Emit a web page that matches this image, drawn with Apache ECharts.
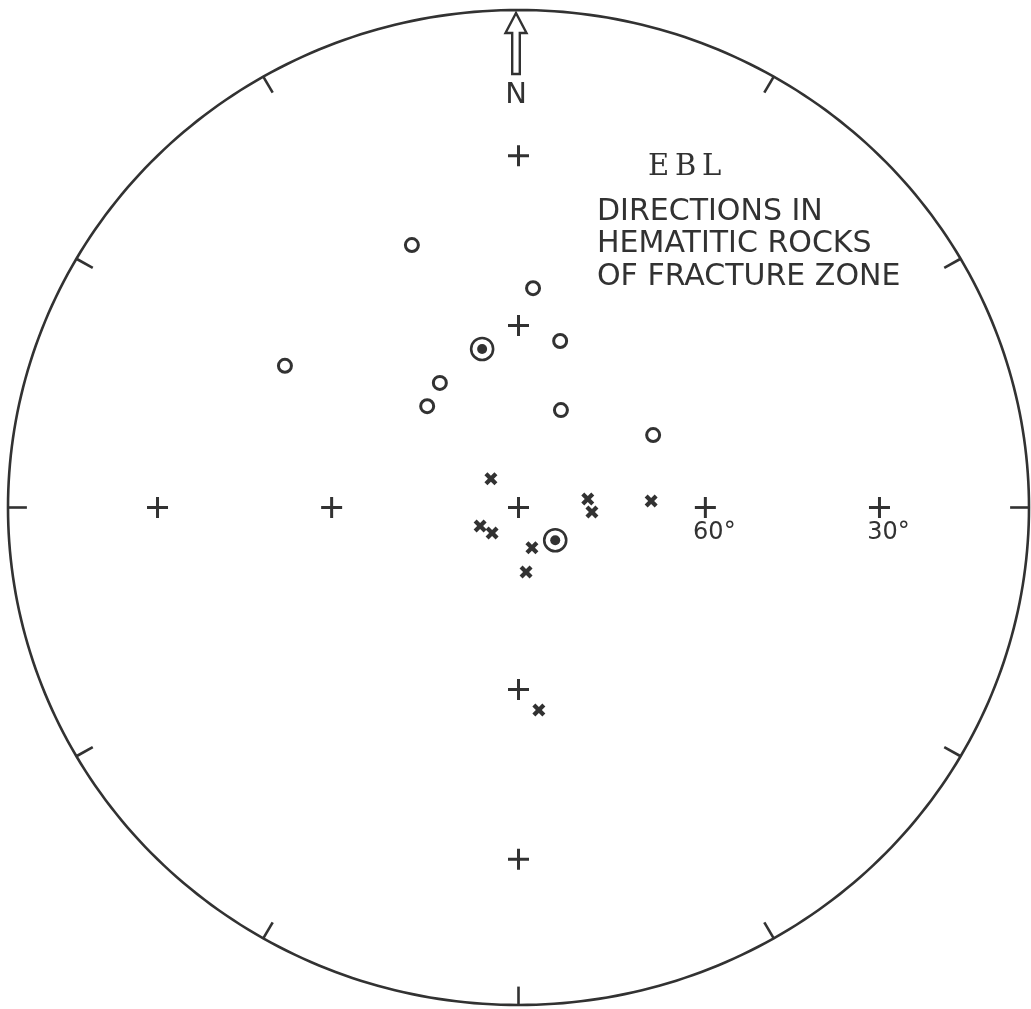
<!DOCTYPE html>
<html>
<head>
<meta charset="utf-8">
<script src="https://cdn.jsdelivr.net/npm/echarts@6/dist/echarts.min.js"></script>
<style>
  html, body { margin: 0; padding: 0; background: #ffffff; }
  #chart { width: 1031px; height: 1009px; }
</style>
</head>
<body>
<div id="chart"></div>
<script>
// Site EBL: palaeomagnetic directions in hematitic rocks of the fracture zone,
// plotted on an equal-area (Schmidt) net. Declination / inclination in degrees;
// negative inclination = upper hemisphere (open circles).

// Upper-hemisphere directions (open circles)
const upperDec = [338.4, 3.7, 13.7, 301.9, 328.4, 318.7, 23.0, 61.1];
const upperInc = [-42.7, -53.6, -61.8, -45.2, -66.0, -67.9, -72.7, -65.4];

// Lower-hemisphere directions (crosses)
const lowerDec = [316.8, 243.7, 225.3, 162.0, 173.5, 82.8, 93.6, 87.1, 174.4];
const lowerInc = [83.6, 83.2, 84.1, 83.1, 79.4, 78.9, 78.3, 68.8, 56.4];

// Mean directions (dotted circles)
const meanDec = [347.4, 132.4];
const meanInc = [-63.3, 82.1];

// Net reference crosses along N, E, S, W at 30 and 60 degrees inclination, plus the centre
const netDec = [0, 0, 90, 90, 180, 180, 270, 270, 0];
const netInc = [30, 60, 60, 30, 60, 30, 60, 30, 90];
const netLabel = ['', '', '60°', '30°', '', '', '', '', ''];

// Azimuth ticks on the primitive circle
const tickAz = [30, 60, 90, 120, 150, 180, 210, 240, 270, 300, 330];

const INK = '#323232';
const FONT = '"DejaVu Sans", sans-serif';

// Equal-area projection of a direction onto the unit net
function project(dec, inc) {
  const r = Math.SQRT2 * Math.sin((90 - Math.abs(inc)) / 2 * Math.PI / 180);
  const d = dec * Math.PI / 180;
  return [r * Math.sin(d), r * Math.cos(d)];
}
const toPoints = (decs, incs) => decs.map((d, i) => project(d, incs[i]));

const upperPts = toPoints(upperDec, upperInc);
const lowerPts = toPoints(lowerDec, lowerInc);
const meanPts = toPoints(meanDec, meanInc);
const netPts = netDec.map((d, i) => project(d, netInc[i]).concat([netLabel[i]]));

const TICK_LEN = 0.037;
const tickData = tickAz.map(a => {
  const t = a * Math.PI / 180;
  return [Math.sin(t), Math.cos(t), (1 - TICK_LEN) * Math.sin(t), (1 - TICK_LEN) * Math.cos(t)];
});

const PLUS = 'path://M9,0H12V9H21V12H12V21H9V12H0V9H9Z';
const XMARK = 'path://M0,3L3,0L6.5,3.5L10,0L13,3L9.5,6.5L13,10L10,13L6.5,9.5L3,13L0,10L3.5,6.5Z';

const chart = echarts.init(document.getElementById('chart'), null, { renderer: 'canvas' });

chart.setOption({
  backgroundColor: '#ffffff',
  animation: false,
  grid: { left: 8, top: 10, width: 1021, height: 995 },
  xAxis: { type: 'value', min: -1, max: 1, show: false },
  yAxis: { type: 'value', min: -1, max: 1, show: false },
  graphic: [
    { type: 'text', x: 648, y: 167, style: { text: 'E\u2009B\u2009L', font: '29px "DejaVu Serif", serif', fill: INK, verticalAlign: 'middle' } },
    { type: 'text', x: 597, y: 212, style: { text: 'DIRECTIONS IN', font: '30px ' + FONT, fill: INK, verticalAlign: 'middle' } },
    { type: 'text', x: 597, y: 244, style: { text: 'HEMATITIC ROCKS', font: '30px ' + FONT, fill: INK, verticalAlign: 'middle' } },
    { type: 'text', x: 597, y: 277, style: { text: 'OF FRACTURE ZONE', font: '30px ' + FONT, fill: INK, verticalAlign: 'middle' } }
  ],
  series: [
    {
      // primitive circle
      type: 'custom',
      coordinateSystem: 'cartesian2d',
      silent: true,
      clip: false,
      data: [[0, 0]],
      renderItem: (params, api) => {
        const pts = [];
        for (let a = 0; a <= 360; a += 1) {
          const t = a * Math.PI / 180;
          pts.push(api.coord([Math.sin(t), Math.cos(t)]));
        }
        return { type: 'polyline', shape: { points: pts }, style: { stroke: INK, lineWidth: 2.6, fill: null } };
      }
    },
    {
      // azimuth ticks
      type: 'custom',
      coordinateSystem: 'cartesian2d',
      silent: true,
      clip: false,
      encode: { x: [0, 2], y: [1, 3] },
      data: tickData,
      renderItem: (params, api) => {
        const p1 = api.coord([api.value(0), api.value(1)]);
        const p2 = api.coord([api.value(2), api.value(3)]);
        return { type: 'line', shape: { x1: p1[0], y1: p1[1], x2: p2[0], y2: p2[1] }, style: { stroke: INK, lineWidth: 2.6 } };
      }
    },
    {
      // north arrow
      type: 'custom',
      coordinateSystem: 'cartesian2d',
      silent: true,
      clip: false,
      data: [[0, 1]],
      renderItem: (params, api) => {
        const top = api.coord([0, 1]);
        const cx = top[0] - 2.5;
        const ty = top[1] + 3;
        const pts = [[0, 0], [10.5, 20], [3.8, 20], [3.8, 61], [-3.8, 61], [-3.8, 20], [-10.5, 20]]
          .map(p => [cx + p[0], ty + p[1]]);
        return {
          type: 'group',
          children: [
            { type: 'polygon', shape: { points: pts }, style: { fill: '#ffffff', stroke: INK, lineWidth: 2.4 } },
            { type: 'text', x: cx, y: ty + 82, style: { text: 'N', font: '29px ' + FONT, fill: INK, align: 'center', verticalAlign: 'middle' } }
          ]
        };
      }
    },
    {
      // net reference crosses
      type: 'scatter',
      silent: true,
      symbol: PLUS,
      symbolSize: 21,
      itemStyle: { color: INK, opacity: 1 },
      data: netPts,
      label: {
        show: true,
        position: 'bottom',
        distance: 3,
        offset: [9, 0],
        formatter: p => p.data[2],
        color: INK,
        opacity: 1,
        fontFamily: 'DejaVu Sans',
        fontSize: 24
      }
    },
    {
      // upper hemisphere
      type: 'scatter',
      silent: true,
      symbol: 'circle',
      symbolSize: 13,
      itemStyle: { color: '#ffffff', borderColor: INK, borderWidth: 3, opacity: 1 },
      data: upperPts
    },
    {
      // lower hemisphere
      type: 'scatter',
      silent: true,
      symbol: XMARK,
      symbolSize: 13,
      itemStyle: { color: INK, opacity: 1 },
      data: lowerPts
    },
    {
      // mean directions: ring
      type: 'scatter',
      silent: true,
      symbol: 'circle',
      symbolSize: 22,
      itemStyle: { color: '#ffffff', borderColor: INK, borderWidth: 2.6, opacity: 1 },
      data: meanPts
    },
    {
      // mean directions: centre dot
      type: 'scatter',
      silent: true,
      symbol: 'circle',
      symbolSize: 10,
      itemStyle: { color: INK, opacity: 1 },
      data: meanPts
    }
  ]
});
</script>
</body>
</html>
